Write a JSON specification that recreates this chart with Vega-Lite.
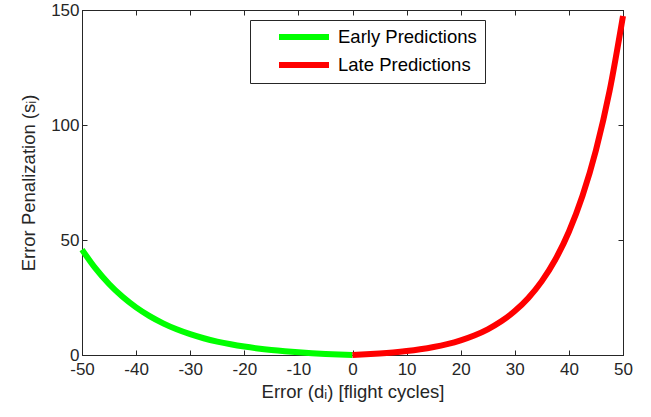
{
  "$schema": "https://vega.github.io/schema/vega-lite/v6.json",
  "width": 541,
  "height": 345,
  "autosize": {"type": "none"},
  "padding": {"left": 82, "top": 10, "right": 28, "bottom": 62},
  "background": "white",
  "config": {
    "font": "Liberation Sans",
    "view": {"stroke": "#262626", "strokeWidth": 1},
    "axis": {
      "grid": false,
      "domainColor": "#262626",
      "tickColor": "#262626",
      "labelColor": "#262626",
      "titleColor": "#262626",
      "labelFont": "Liberation Sans",
      "titleFont": "Liberation Sans",
      "labelFontSize": 17,
      "titleFontSize": 18.5,
      "titleFontWeight": "normal",
      "tickSize": -5,
      "labelFlush": false,
      "labelOverlap": false
    }
  },
  "data": {
    "values": [
      {"d": -50, "s": 45.80, "type": "Early Predictions"},
      {"d": -47.5, "s": 37.62, "type": "Early Predictions"},
      {"d": -45, "s": 30.86, "type": "Early Predictions"},
      {"d": -42.5, "s": 25.29, "type": "Early Predictions"},
      {"d": -40, "s": 20.69, "type": "Early Predictions"},
      {"d": -37.5, "s": 16.90, "type": "Early Predictions"},
      {"d": -35, "s": 13.77, "type": "Early Predictions"},
      {"d": -32.5, "s": 11.18, "type": "Early Predictions"},
      {"d": -30, "s": 9.05, "type": "Early Predictions"},
      {"d": -27.5, "s": 7.29, "type": "Early Predictions"},
      {"d": -25, "s": 5.84, "type": "Early Predictions"},
      {"d": -22.5, "s": 4.65, "type": "Early Predictions"},
      {"d": -20, "s": 3.66, "type": "Early Predictions"},
      {"d": -17.5, "s": 2.84, "type": "Early Predictions"},
      {"d": -15, "s": 2.17, "type": "Early Predictions"},
      {"d": -12.5, "s": 1.62, "type": "Early Predictions"},
      {"d": -10, "s": 1.16, "type": "Early Predictions"},
      {"d": -7.5, "s": 0.78, "type": "Early Predictions"},
      {"d": -5, "s": 0.47, "type": "Early Predictions"},
      {"d": -2.5, "s": 0.21, "type": "Early Predictions"},
      {"d": 0, "s": 0, "type": "Early Predictions"},
      {"d": 0, "s": 0, "type": "Late Predictions"},
      {"d": 2.5, "s": 0.28, "type": "Late Predictions"},
      {"d": 5, "s": 0.65, "type": "Late Predictions"},
      {"d": 7.5, "s": 1.12, "type": "Late Predictions"},
      {"d": 10, "s": 1.72, "type": "Late Predictions"},
      {"d": 12.5, "s": 2.49, "type": "Late Predictions"},
      {"d": 15, "s": 3.48, "type": "Late Predictions"},
      {"d": 17.5, "s": 4.75, "type": "Late Predictions"},
      {"d": 20, "s": 6.39, "type": "Late Predictions"},
      {"d": 22.5, "s": 8.49, "type": "Late Predictions"},
      {"d": 25, "s": 11.18, "type": "Late Predictions"},
      {"d": 27.5, "s": 14.64, "type": "Late Predictions"},
      {"d": 30, "s": 19.09, "type": "Late Predictions"},
      {"d": 32.5, "s": 24.79, "type": "Late Predictions"},
      {"d": 35, "s": 32.12, "type": "Late Predictions"},
      {"d": 37.5, "s": 41.52, "type": "Late Predictions"},
      {"d": 40, "s": 53.60, "type": "Late Predictions"},
      {"d": 42.5, "s": 69.10, "type": "Late Predictions"},
      {"d": 45, "s": 89.02, "type": "Late Predictions"},
      {"d": 47.5, "s": 114.58, "type": "Late Predictions"},
      {"d": 50, "s": 147.41, "type": "Late Predictions"}
    ]
  },
  "layer": [
    {
      "mark": {"type": "line", "strokeWidth": 6, "interpolate": "monotone", "clip": false},
      "encoding": {
        "x": {"field": "d", "type": "quantitative", "scale": {"domain": [-50, 50], "nice": false},
              "axis": {"title": "Error (dᵢ) [flight cycles]", "values": [-50,-40,-30,-20,-10,0,10,20,30,40,50],
                       "labelExpr": "datum.value + ''", "labelPadding": 11, "titlePadding": 5}},
        "y": {"field": "s", "type": "quantitative", "scale": {"domain": [0, 150], "nice": false},
              "axis": {"title": "Error Penalization (sᵢ)", "values": [0,50,100,150],
                       "labelExpr": "datum.value + ''", "labelPadding": 8, "titlePadding": 12}},
        "color": {
          "field": "type", "type": "nominal",
          "scale": {"domain": ["Early Predictions", "Late Predictions"], "range": ["#00FF00", "#FF0000"]},
          "legend": {
            "title": null,
            "orient": "none",
            "legendX": 168,
            "legendY": 10,
            "symbolType": "stroke",
            "symbolSize": 2500,
            "symbolStrokeWidth": 6,
            "symbolOffset": 18,
            "labelFontSize": 18.5,
            "labelFont": "Liberation Sans",
            "labelColor": "black",
            "labelOffset": 6,
            "labelLimit": 300,
            "clipHeight": 18,
            "rowPadding": 9,
            "padding": 8,
            "strokeColor": "#262626",
            "fillColor": "white"
          }
        }
      }
    },
    {
      "mark": {"type": "line", "opacity": 0},
      "encoding": {
        "x": {"field": "d", "type": "quantitative", "axis": {"orient": "top", "labels": false, "title": null, "values": [-50,-40,-30,-20,-10,0,10,20,30,40,50]}},
        "y": {"field": "s", "type": "quantitative", "axis": {"orient": "right", "labels": false, "title": null, "values": [0,50,100,150]}},
        "detail": {"field": "type"}
      }
    }
  ],
  "resolve": {"axis": {"x": "independent", "y": "independent"}}
}
